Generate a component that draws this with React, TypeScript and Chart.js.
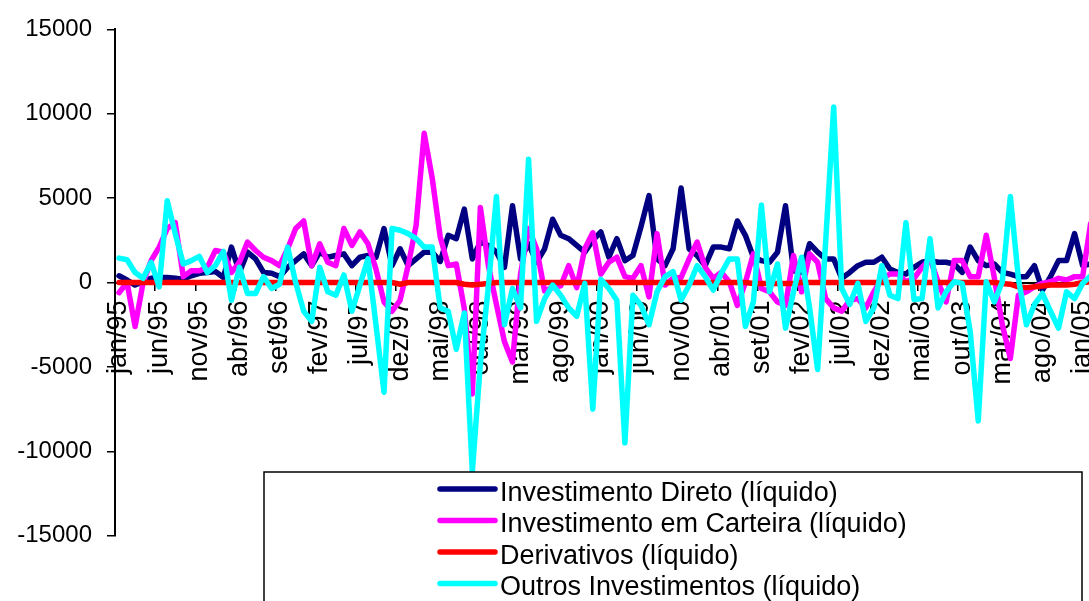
import React, { useEffect, useRef } from 'react';
import { Chart, registerables } from 'chart.js';

Chart.register(...registerables);

const MONTHS = ['jan', 'fev', 'mar', 'abr', 'mai', 'jun', 'jul', 'ago', 'set', 'out', 'nov', 'dez'];
const YEARS = ['95', '96', '97', '98', '99', '00', '01', '02', '03', '04', '05'];
const CATEGORIES: string[] = [];
for (const yy of YEARS) for (const m of MONTHS) CATEGORIES.push(`${m}/${yy}`);
const LABELS = CATEGORIES.slice(0, 125);

const Y_TICKS = [-15000, -10000, -5000, 0, 5000, 10000, 15000];

const SERIES_NAMES = [
  'Investimento Direto (líquido)',
  'Investimento em Carteira (líquido)',
  'Derivativos (líquido)',
  'Outros Investimentos (líquido)',
];

const DIRETO = [
  400, 150, -150, 50, 250, 300, 300, 250, 200, 400,
  550, 600, 650, 300, 2100, 600, 1800, 1400, 600, 550,
  350, 900, 1300, 1700, 1000, 1800, 1500, 1600, 1700, 1000,
  1500, 1600, 1500, 3200, 1000, 2000, 1000, 1400, 1800, 1800,
  1250, 2800, 2600, 4350, 1400, 2400, 2200, 1800, 900, 4550,
  1400, 2300, 1200, 2000, 3750, 2800, 2600, 2200, 1800, 2500,
  3000, 1500, 2600, 1300, 1600, 3300, 5150, 1400, 1000, 2000,
  5600, 2000, 1600, 1000, 2100, 2100, 2000, 3650, 2800, 1500,
  1300, 1200, 1800, 4550, 700, 600, 2300, 1800, 1400, 1400,
  250, 600, 1000, 1200, 1200, 1500, 800, 600, 500, 900,
  1200, 1300, 1200, 1200, 1100, 600, 2100, 1300, 1000, 1100,
  600, 500, 350, 350, 1000, -450, 350, 1300, 1300, 2900,
  1000, 1100, 1200,
];

const CARTEIRA = [
  -600, 0, -2600, 0, 1300, 2100, 3200, 3550, 350, 700,
  700, 900, 1900, 1800, 600, 1200, 2400, 1900, 1500, 1300,
  1000, 2000, 3200, 3650, 1000, 2300, 1200, 1000, 3200, 2200,
  3000, 2300, 800, -1150, -1700, -1050, 1000, 3400, 8850, 6200,
  2700, 1000, 1100, -1550, -6600, 4450, 1000, -1300, -3500, -4700,
  500, 3200, 2000, -500, -300, -200, 1000, -300, 2000, 2950,
  500, 1200, 1500, 350, 250, 1000, -850, 2900, -150, 250,
  300, 1400, 2400, 900, 250, 600, 50, -1350, 0, 1700,
  -350, -550, -1150, -1350, 1600, -550, 1700, 1200, -950, -1500,
  -1700, -1050, -950, -1500, -550, 250, 500, 500, 50, 250,
  900, 1400, 50, -1150, 1300, 1300, 350, 350, 2800, 300,
  -2500, -4500, -750, -550, -250, -50, 50, 250, 150, 350,
  350, 3500, 3600,
];

const DERIVATIVOS = [
  0, 0, 0, 0, 0, 0, 0, 0, 0, 0,
  0, 0, 0, 0, 0, 0, 0, 0, 0, 0,
  0, 0, 0, 0, 0, 0, 0, 0, 0, 0,
  0, 0, 0, 0, 0, -100, 0, 0, 0, 0,
  0, 0, 0, -100, -150, -100, -50, 0, 0, 0,
  0, 0, 0, 0, 0, 0, 0, 0, 0, 0,
  0, 0, 0, 0, 0, 0, 0, 0, 0, 0,
  0, 0, 0, 0, 0, 0, 0, 0, 0, -50,
  -50, -50, -50, -50, -50, 0, 0, 0, 0, 0,
  0, 0, 0, 0, 0, 0, 0, 0, 0, 0,
  0, 0, 0, 0, 0, 0, 0, 0, 0, 0,
  -50, -100, -250, -300, -250, -200, -150, -150, -150, -100,
  0, 50, 50,
];

const OUTROS = [
  1450, 1350, 600, 250, 1200, -250, 4850, 2900, 1100, 1300,
  1550, 600, 1000, 1850, -1050, 900, -650, -650, 350, -350,
  -100, 2100, 0, -1700, -2300, 900, -550, -750, 450, -1700,
  -150, 1400, -2500, -6500, 3200, 3100, 2900, 2600, 2100, 2100,
  -1500, -1700, -3950, -1800, -11200, -4800, -200, 5100, -2500, -350,
  -1500, 7300, -2300, -950, -150, -750, -1500, -2000, -50, -7500,
  200, -350, -1050, -9500, -750, -1350, -2500, -550, 350, 650,
  -1050, -150, 1000, 350, -450, 550, 1400, 1400, -2600, -1150,
  4600, -550, 1100, -2700, -550, 1500, -1500, -5150, 2400, 10400,
  -350, -1300, -50, -2300, -1500, 1000, -750, -950, 3550, -1000,
  -950, 2600, -1500, -550, 50, -50, -2900, -8200, 50, -1150,
  50, 5100, 250, -2500, -1300, -650, -1700, -2700, -550, -950,
  -50, 400, 600,
];

const COLORS = ['#000080', '#FF00FF', '#FF0000', '#00FFFF'];

const CANVAS_W = 1130;
const CANVAS_H = 640;
const FONT = '"Liberation Sans", Arial, sans-serif';

export default function App() {
  const ref = useRef<HTMLCanvasElement>(null);

  useEffect(() => {
    if (!ref.current) return;

    const boxLegend = {
      id: 'boxLegend',
      afterDraw(chart: any) {
        const ctx = chart.ctx;
        ctx.save();
        ctx.fillStyle = '#ffffff';
        ctx.fillRect(264, 472, 818, 220);
        ctx.strokeStyle = '#000000';
        ctx.lineWidth = 1.5;
        ctx.strokeRect(264, 472, 818, 220);
        chart.data.datasets.forEach((ds: any, i: number) => {
          const y = 489 + i * 31.5;
          ctx.strokeStyle = ds.borderColor;
          ctx.lineWidth = 5.5;
          ctx.lineCap = 'round';
          ctx.beginPath();
          ctx.moveTo(440, y);
          ctx.lineTo(495, y);
          ctx.stroke();
          ctx.fillStyle = '#000000';
          ctx.font = `27px ${FONT}`;
          ctx.textBaseline = 'alphabetic';
          ctx.textAlign = 'left';
          ctx.fillText(ds.label, 500, y + 11.5);
        });
        ctx.restore();
      },
    };

    const values = [DIRETO, CARTEIRA, DERIVATIVOS, OUTROS];
    const orders = [4, 3, 2, 1];

    const chart = new Chart(ref.current, {
      type: 'line',
      data: {
        labels: LABELS,
        datasets: SERIES_NAMES.map((name, i) => ({
          label: name,
          data: values[i],
          borderColor: COLORS[i],
          backgroundColor: COLORS[i],
          borderWidth: 5.5,
          pointRadius: 0,
          tension: 0,
          fill: false,
          order: orders[i],
          borderJoinStyle: 'round' as const,
          borderCapStyle: 'round' as const,
        })),
      },
      options: {
        animation: false,
        responsive: false,
        devicePixelRatio: 1,
        layout: {
          padding: { left: 0, top: 25.7, right: CANVAS_W - 1118.75, bottom: CANVAS_H - 535.7 },
        },
        plugins: {
          legend: { display: false },
          tooltip: { enabled: false },
        },
        scales: {
          x: {
            type: 'category',
            position: { y: 0 } as any,
            offset: true,
            grid: {
              offset: true,
              drawOnChartArea: false,
              drawTicks: true,
              tickLength: 7,
              lineWidth: 1.5,
              color: (ctx: any) => (ctx.index % 5 === 0 ? '#000000' : 'rgba(0,0,0,0)'),
            },
            border: { display: true, color: '#000000', width: 2 },
            ticks: {
              autoSkip: false,
              minRotation: 90,
              maxRotation: 90,
              padding: 11,
              color: '#000000',
              font: { family: FONT, size: 27 },
              callback: function (this: any, value: any, index: number) {
                return index % 5 === 0 ? this.getLabelForValue(value) : '';
              },
            },
            afterFit: (s: any) => {
              s.height = 0;
              s.paddingLeft = 0;
              s.paddingRight = 0;
            },
          },
          y: {
            min: Y_TICKS[0],
            max: Y_TICKS[Y_TICKS.length - 1],
            afterBuildTicks: (s: any) => {
              s.ticks = Y_TICKS.map((v) => ({ value: v }));
            },
            ticks: {
              color: '#000000',
              padding: 15,
              font: { family: FONT, size: 24 },
              callback: (v: any) => String(v),
            },
            grid: {
              drawOnChartArea: false,
              drawTicks: true,
              tickLength: 8,
              lineWidth: 1.5,
              color: '#000000',
            },
            border: { display: true, color: '#000000', width: 2 },
            afterFit: (s: any) => {
              s.width = 115;
            },
          },
        },
      },
      plugins: [boxLegend],
    });

    return () => chart.destroy();
  }, []);

  return (
    <div
      style={{
        position: 'fixed',
        left: 0,
        top: 0,
        width: 1089,
        height: 601,
        overflow: 'hidden',
        background: '#ffffff',
      }}
    >
      <canvas
        ref={ref}
        width={CANVAS_W}
        height={CANVAS_H}
        style={{ display: 'block', width: CANVAS_W, height: CANVAS_H }}
      />
    </div>
  );
}
